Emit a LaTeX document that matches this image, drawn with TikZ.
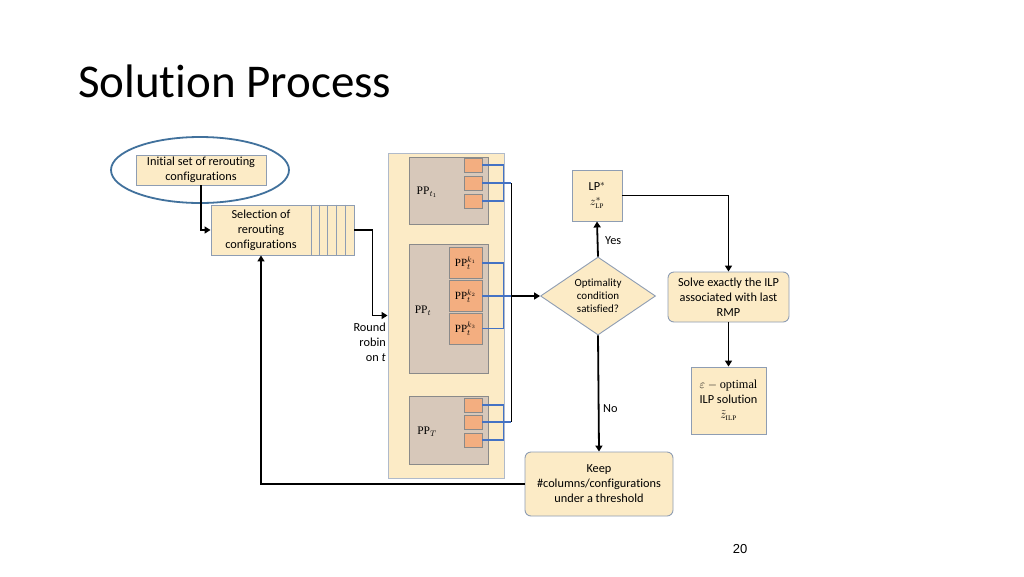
\documentclass[tikz,border=0pt]{standalone}
\usepackage{fontspec}
\setmainfont{Carlito}[Ligatures=NoCommon]
\newfontfamily\numfont{Liberation Sans}
\newfontfamily\ppfont{Liberation Serif}
\usepackage{tikz}
\usetikzlibrary{arrows.meta,shapes.geometric}
\definecolor{boxfill}{HTML}{FCEBC6}
\definecolor{boxline}{HTML}{8E9DB3}
\definecolor{ppfill}{HTML}{D7C8BA}
\definecolor{ppline}{HTML}{8A8A8A}
\definecolor{subfill}{HTML}{F3AE80}
\definecolor{linkblue}{HTML}{4472C4}
\definecolor{ringblue}{HTML}{41719C}
\tikzset{
    stagebox/.style={draw=boxline,fill=boxfill,line width=0.9pt,inner sep=0pt,align=center,font=\fontsize{12.3}{15}\selectfont},
    roundbox/.style={stagebox,rounded corners=6pt},
    ppbox/.style={draw=ppline,fill=ppfill,line width=0.8pt,inner sep=0pt},
    subbox/.style={draw=ppline,fill=subfill,line width=0.8pt,inner sep=0pt,minimum width=18pt,minimum height=14pt},
    bigsub/.style={subbox,minimum width=33pt,minimum height=31pt,font=\ppfont\fontsize{11}{13}\selectfont},
    pplabel/.style={font=\ppfont\fontsize{11.5}{13}\selectfont,inner sep=0pt},
    link/.style={draw=linkblue,line width=1.1pt},
    flow/.style={draw=black,line width=1.8pt,-{Triangle[length=6pt,width=7pt]}},
    bus/.style={draw=black,line width=1.6pt},
    tag/.style={font=\fontsize{12.3}{15}\selectfont,inner sep=0pt}
}

\begin{document}
\begin{tikzpicture}[x=1pt,y=-1pt]
\useasboundingbox[fill=white] (0,0) rectangle (1024,576);

\node[anchor=base west,inner sep=0pt,font=\fontsize{47}{48}\selectfont] (title) at (78,97) {Solution Process};

% left column
\node[stagebox,minimum width=130pt,minimum height=30pt] (init) at (201,170) {Initial set of rerouting\\configurations};
\node[draw=ringblue,line width=1.8pt,ellipse,minimum width=178pt,minimum height=66pt] (ring) at (200,170) {};
\node[stagebox,minimum width=100pt,minimum height=50pt] (sel) at (261,230) {Selection of\\rerouting\\configurations};
\node[stagebox,minimum width=43pt,minimum height=50pt] (queue) at (332.5,230) {};
\foreach \i in {1,...,4}
    \draw[boxline,line width=0.9pt] ([xshift=\i*8.6pt]queue.north west) -- ([xshift=\i*8.6pt]queue.south west);

% pricing problems
\node[draw=boxline!70,fill=boxfill,line width=0.9pt,minimum width=116pt,minimum height=325pt,inner sep=0pt] (big) at (446,315.5) {};
\node[ppbox,minimum width=79pt,minimum height=67pt] (ppa) at (448.5,190.5) {};
\node[ppbox,minimum width=79pt,minimum height=129pt] (ppt) at (448.5,308.5) {};
\node[ppbox,minimum width=79pt,minimum height=68pt] (ppT) at (448.5,430) {};
\node[pplabel] (ppalab) at (427,192) {PP$_{t_1}$};
\node[pplabel] (pptlab) at (423,311) {PP$_t$};
\node[pplabel] (ppTlab) at (427,432) {PP$_T$};

\node[subbox] (sa1) at (473,165) {};
\node[subbox] (sa2) at (473,183) {};
\node[subbox] (sa3) at (473,201) {};
\node[bigsub] (st1) at (465.5,263) {PP$_t^{k_1}$};
\node[bigsub] (st2) at (465.5,296) {PP$_t^{k_2}$};
\node[bigsub] (st3) at (465.5,328.5) {PP$_t^{k_3}$};
\node[subbox] (sT1) at (473,405) {};
\node[subbox] (sT2) at (473,422) {};
\node[subbox] (sT3) at (473,440) {};

\draw[link] (sa1.east) -- ++(21,0) |- (sa3.east);
\draw[link] (sa2.east) -- ++(29,0) coordinate (bustop);
\draw[link] (st1.east) -- ++(21,0) |- (st3.east);
\draw[link] (st2.east) -- ++(29,0) coordinate (busmid);
\draw[link] (sT1.east) -- ++(21,0) |- (sT3.east);
\draw[link] (sT2.east) -- ++(29,0) coordinate (busbot);
\draw[bus] (bustop) -- (busbot);

\node[tag,align=right,anchor=east] (robin) at (386,342) {Round\\robin\\on \textit{t}};

% right part
\node[draw=boxline,fill=boxfill,line width=0.9pt,diamond,aspect=1.47,minimum width=115pt,minimum height=78pt,inner sep=0pt,align=center,font=\fontsize{11}{12.8}\selectfont] (opt) at (598,296) {Optimality\\condition\\satisfied?};
\node[stagebox,minimum width=50pt,minimum height=51pt] (lp) at (597,195.5) {LP$^*$\\$z^*_{\mbox{\ppfont\scriptsize LP}}$};
\node[roundbox,minimum width=121pt,minimum height=50pt] (solve) at (728.5,297) {Solve exactly the ILP\\associated with last\\RMP};
\node[stagebox,minimum width=75pt,minimum height=67pt] (eps) at (728.5,400.5) {$\varepsilon-{}${\ppfont optimal}\\ILP solution\\$\tilde z_{\mbox{\ppfont\scriptsize ILP}}$};
\node[roundbox,minimum width=148pt,minimum height=64pt] (keep) at (599,484) {Keep\\\#columns/configurations\\under a threshold};

\node[tag,anchor=west] (yes) at (605,241) {Yes};
\node[tag,anchor=west] (no) at (603,409) {No};

% arrows
\draw[flow] (init.south) |- (sel.west);
\draw[flow] (queue.east) -- ++(18,0) |- (big.west);
\draw[flow] (busmid) -- (opt.west);
\draw[flow] (opt.north) -- (lp.south);
\draw[flow] (lp.east) -| (solve.north);
\draw[flow] (solve.south) -- (eps.north);
\draw[flow] (opt.south) -- (keep.north);
\draw[flow] (keep.west) -| (sel.south);

\node[font=\numfont\fontsize{13}{15}\selectfont] (page) at (740,549) {20};
\end{tikzpicture}
\end{document}
